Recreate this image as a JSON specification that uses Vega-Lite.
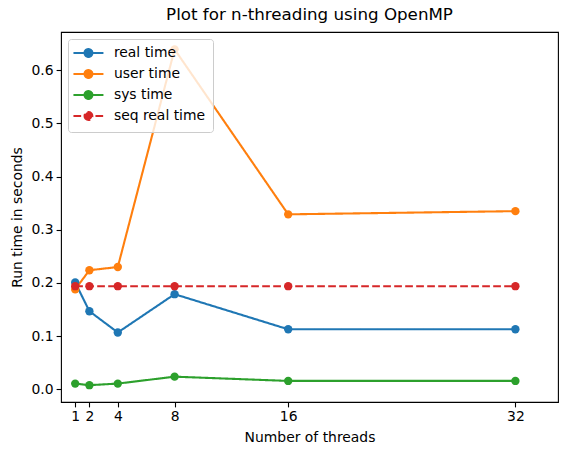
{
  "$schema": "https://vega.github.io/schema/vega-lite/v6.json",
  "width": 497,
  "height": 370,
  "autosize": {"type": "none"},
  "padding": {"left": 61, "top": 32, "right": 9, "bottom": 53},
  "background": "white",
  "config": {
    "font": "DejaVu Sans",
    "view": {"stroke": "black", "strokeWidth": 1.1},
    "axis": {
      "grid": false,
      "domain": false,
      "labelFont": "DejaVu Sans",
      "labelFontSize": 13.9,
      "labelColor": "black",
      "tickColor": "black",
      "tickSize": 4.9,
      "tickWidth": 1.1,
      "labelPadding": 3,
      "titleFont": "DejaVu Sans",
      "titleFontSize": 13.9,
      "titleFontWeight": "normal",
      "titleColor": "black"
    }
  },
  "title": {
    "text": "Plot for n-threading using OpenMP",
    "fontSize": 16.7,
    "fontWeight": "normal",
    "color": "black",
    "font": "DejaVu Sans",
    "anchor": "middle",
    "offset": 8
  },
  "data": {
    "values": [
      {"threads": 1, "series": "real time", "time": 0.201},
      {"threads": 2, "series": "real time", "time": 0.147},
      {"threads": 4, "series": "real time", "time": 0.107},
      {"threads": 8, "series": "real time", "time": 0.179},
      {"threads": 16, "series": "real time", "time": 0.113},
      {"threads": 32, "series": "real time", "time": 0.113},
      {"threads": 1, "series": "user time", "time": 0.188},
      {"threads": 2, "series": "user time", "time": 0.224},
      {"threads": 4, "series": "user time", "time": 0.230},
      {"threads": 8, "series": "user time", "time": 0.639},
      {"threads": 16, "series": "user time", "time": 0.329},
      {"threads": 32, "series": "user time", "time": 0.335},
      {"threads": 1, "series": "sys time", "time": 0.011},
      {"threads": 2, "series": "sys time", "time": 0.008},
      {"threads": 4, "series": "sys time", "time": 0.011},
      {"threads": 8, "series": "sys time", "time": 0.024},
      {"threads": 16, "series": "sys time", "time": 0.016},
      {"threads": 32, "series": "sys time", "time": 0.016},
      {"threads": 1, "series": "seq real time", "time": 0.194},
      {"threads": 2, "series": "seq real time", "time": 0.194},
      {"threads": 4, "series": "seq real time", "time": 0.194},
      {"threads": 8, "series": "seq real time", "time": 0.194},
      {"threads": 16, "series": "seq real time", "time": 0.194},
      {"threads": 32, "series": "seq real time", "time": 0.194}
    ]
  },
  "encoding": {
    "x": {
      "field": "threads",
      "type": "quantitative",
      "title": "Number of threads",
      "scale": {"domain": [0, 35], "nice": false, "zero": false},
      "axis": {"values": [1, 2, 4, 8, 16, 32], "format": "d", "titlePadding": 7}
    },
    "y": {
      "field": "time",
      "type": "quantitative",
      "title": "Run time in seconds",
      "scale": {"domain": [-0.0236, 0.6716], "nice": false, "zero": false},
      "axis": {"values": [0, 0.1, 0.2, 0.3, 0.4, 0.5, 0.6], "format": ".1f", "titlePadding": 7}
    }
  },
  "layer": [
    {
      "mark": {"type": "point", "filled": true, "opacity": 0},
      "encoding": {
        "color": {
          "field": "series",
          "type": "nominal",
          "scale": {"domain": ["real time", "user time", "sys time", "seq real time"], "range": ["#1f77b4", "#ff7f0e", "#2ca02c", "#d62728"]},
          "legend": {
            "title": null,
            "orient": "top-left",
            "offset": 7,
            "symbolSize": 100,
            "labelFontSize": 13.9,
            "labelFont": "DejaVu Sans",
            "labelColor": "black",
            "labelOffset": 25,
            "fillColor": "rgba(255,255,255,0.8)",
            "strokeColor": "#cccccc",
            "cornerRadius": 3,
            "padding": 7,
            "rowPadding": 3,
            "symbolOpacity": 1,
            "symbolStrokeWidth": 2.1,
            "encode": {
              "symbols": {
                "update": {
                  "fill": {"scale": "color", "field": "value"},
                  "stroke": {"scale": "color", "field": "value"},
                  "opacity": {"value": 1},
                  "strokeWidth": {"value": 2.1}
                }
              }
            }
          }
        },
        "shape": {
          "field": "series",
          "type": "nominal",
          "scale": {
            "domain": ["real time", "user time", "sys time", "seq real time"],
            "range": [
              "M-1.7,0L4.3,0M0.52,0A0.78,0.78,0,1,0,2.08,0A0.78,0.78,0,1,0,0.52,0Z",
              "M-1.7,0L4.3,0M0.52,0A0.78,0.78,0,1,0,2.08,0A0.78,0.78,0,1,0,0.52,0Z",
              "M-1.7,0L4.3,0M0.52,0A0.78,0.78,0,1,0,2.08,0A0.78,0.78,0,1,0,0.52,0Z",
              "M-1.7,0L-0.16,0M0.5,0L2.04,0M2.7,0L4.24,0M0.52,0A0.78,0.78,0,1,0,2.08,0A0.78,0.78,0,1,0,0.52,0Z"
            ]
          },
          "legend": {"title": null}
        }
      }
    },
    {
      "mark": {"type": "line", "strokeWidth": 2.1},
      "encoding": {
        "color": {"field": "series", "type": "nominal", "legend": null},
        "strokeDash": {
          "field": "series",
          "type": "nominal",
          "scale": {"domain": ["real time", "user time", "sys time", "seq real time"], "range": [[1, 0], [1, 0], [1, 0], [7.7, 3.3]]},
          "legend": null
        }
      }
    },
    {
      "mark": {"type": "point", "filled": true, "opacity": 1, "size": 70, "shape": "circle"},
      "encoding": {
        "color": {"field": "series", "type": "nominal", "legend": null}
      }
    }
  ]
}
